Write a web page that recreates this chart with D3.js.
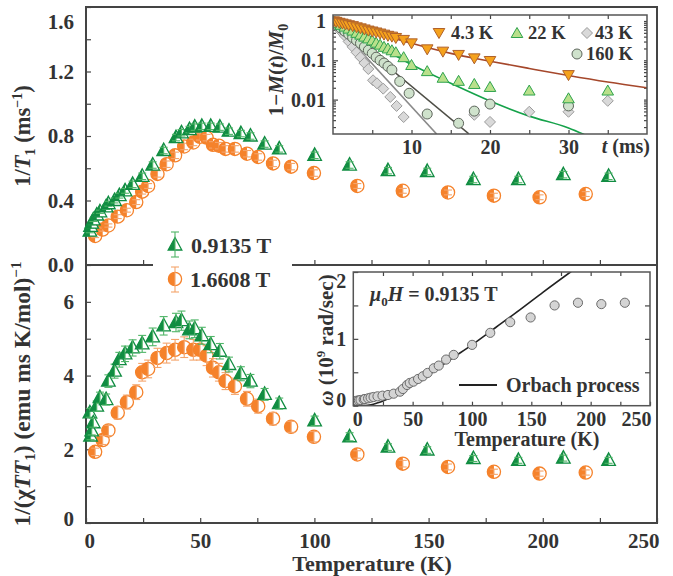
<!DOCTYPE html>
<html><head><meta charset="utf-8">
<script src="https://cdn.jsdelivr.net/npm/d3@7"></script>
<style>
body{margin:0;background:#fff}
text{font-family:"Liberation Serif",serif;font-weight:bold;fill:#333}
</style></head>
<body><svg id="chart" width="673" height="576"></svg>
<script>
// ---- 0.9135 T series (green triangles) ----
const greenT = [1.7,2.0,2.5,3.2,4.7,6.1,8.8,9.8,12.5,14.6,17.1,20.4,24.6,29.2,34.0,39.4,41.8,45.3,47.6,50.7,54.6,58.6,62.6,67.8,72.0,78.2,84.6,100.1,115.4,132.2,149.4,169.6,189.3,209.0,228.8];
const greenInvT1 = [0.21,0.24,0.26,0.28,0.31,0.33,0.36,0.38,0.40,0.43,0.46,0.50,0.55,0.62,0.71,0.79,0.82,0.84,0.855,0.86,0.86,0.855,0.83,0.815,0.80,0.75,0.72,0.68,0.62,0.585,0.58,0.53,0.53,0.56,0.55];
const greenInvT1Err = [0.01,0.01,0.01,0.01,0.01,0.01,0.015,0.015,0.015,0.015,0.015,0.02,0.02,0.02,0.02,0.02,0.02,0.02,0.02,0.02,0.02,0.02,0.02,0.02,0.02,0.02,0.02,0.02,0.02,0.02,0.02,0.02,0.02,0.02,0.02];
const greenInvChiTT1 = [2.99,2.36,2.50,2.72,3.17,3.40,3.35,3.85,4.12,4.43,4.59,4.75,4.86,5.05,5.35,5.44,5.49,5.24,5.27,5.08,4.84,4.66,4.30,4.05,3.85,3.49,3.24,2.77,2.34,2.06,1.98,1.75,1.70,1.76,1.70];
const greenInvChiTT1Err = [0.12,0.10,0.11,0.12,0.14,0.15,0.15,0.17,0.19,0.2,0.21,0.22,0.23,0.24,0.25,0.25,0.26,0.24,0.24,0.23,0.22,0.21,0.2,0.19,0.18,0.16,0.15,0.13,0.11,0.09,0.09,0.08,0.08,0.08,0.08];
const greenOmega = [0.06,0.065,0.07,0.075,0.08,0.085,0.095,0.10,0.11,0.12,0.13,0.14,0.15,0.16,0.18,0.21,0.25,0.31,0.34,0.36,0.40,0.44,0.49,0.56,0.60,0.69,0.76,0.91,1.09,1.25,1.32,1.50,1.54,1.52,1.54];

// ---- 1.6608 T series (orange circles) ----
const orangeT = [4.0,7.3,9.8,13.9,17.9,22.0,24.6,27.2,31.3,35.3,39.0,43.0,47.0,49.9,52.8,55.6,58.2,61.1,65.2,70.5,75.4,81.9,89.8,99.8,118.8,138.7,158.5,178.6,198.6,218.8];
const orangeInvT1 = [0.18,0.22,0.245,0.30,0.34,0.39,0.455,0.49,0.565,0.625,0.68,0.735,0.76,0.795,0.79,0.745,0.74,0.72,0.72,0.69,0.67,0.63,0.61,0.57,0.49,0.46,0.45,0.43,0.42,0.44];
const orangeInvT1Err = [0.01,0.01,0.01,0.012,0.012,0.015,0.015,0.015,0.02,0.02,0.02,0.02,0.02,0.02,0.02,0.02,0.02,0.02,0.02,0.02,0.02,0.02,0.02,0.02,0.015,0.015,0.015,0.015,0.015,0.015];
const orangeInvChiTT1 = [1.93,2.25,2.51,2.99,3.28,3.55,4.09,4.18,4.48,4.61,4.70,4.77,4.70,4.70,4.54,4.21,4.09,3.85,3.71,3.37,3.17,2.83,2.61,2.34,1.86,1.61,1.52,1.39,1.34,1.37];
const orangeInvChiTT1Err = [0.1,0.12,0.14,0.17,0.19,0.2,0.24,0.24,0.26,0.27,0.28,0.28,0.28,0.28,0.27,0.25,0.24,0.23,0.22,0.2,0.19,0.17,0.15,0.14,0.1,0.09,0.08,0.07,0.07,0.07];

// ---- Recovery curves 1-M(t)/M0 ----
const rec4T = [0.1,0.4,0.8,1.2,1.6,2.0,2.5,3.0,3.5,4.0,4.5,5.0,5.5,6.0,6.5,7.0,7.5,8.0,9.0,10,12,14,16,18,20,30];
const rec4V = [0.98,0.95,0.9,0.86,0.82,0.78,0.74,0.69,0.65,0.61,0.57,0.54,0.51,0.48,0.45,0.42,0.40,0.37,0.33,0.27,0.19,0.166,0.137,0.112,0.096,0.042];
const rec22T = [0.1,0.5,1.0,1.5,2.0,2.5,3.0,3.5,4.0,4.5,5.0,5.5,6.0,6.5,7.0,7.5,8.0,9.0,10,12,14,16,18,20,25,30,35];
const rec22V = [0.97,0.88,0.8,0.72,0.64,0.57,0.5,0.45,0.4,0.36,0.32,0.28,0.25,0.22,0.2,0.18,0.16,0.12,0.076,0.053,0.036,0.030,0.025,0.021,0.017,0.0108,0.017];
const rec43T = [0.1,0.5,1.0,1.5,2.0,2.5,3.0,3.5,4.0,4.5,5.1,5.6,6.4,7.3,8.1,9.0,18,20,25,30,35];
const rec43V = [0.95,0.75,0.55,0.42,0.3,0.22,0.16,0.12,0.085,0.06,0.031,0.026,0.019,0.0117,0.0069,0.0036,0.0041,0.0027,0.0049,0.0049,0.0093];
const rec160T = [0.1,0.5,1.0,1.5,2.0,2.5,3.0,3.5,4.0,4.5,5.0,5.5,6.0,6.5,7.0,7.5,8.5,9.7,12,16,18,20,30];
const rec160V = [0.96,0.8,0.66,0.55,0.46,0.38,0.32,0.27,0.22,0.18,0.15,0.12,0.1,0.085,0.07,0.057,0.029,0.0145,0.0043,0.0025,0.0051,0.0077,0.0069];
const fit4 = [[0,1],[2,0.78],[5,0.53],[10,0.27],[15,0.15],[20,0.095],[25,0.062],[30,0.041],[35,0.028],[40,0.02]];
const fit22 = [[0,1],[1,0.78],[2,0.6],[4,0.37],[6,0.22],[8,0.13],[10,0.078],[15,0.026],[20,0.0092],[25,0.0038],[30,0.0019],[32,0.0013]];
const fit43 = [[0,1],[13.2,0.00133]];
const fit160 = [[0,1],[17.3,0.00135]];

// ---- Orbach process curve for the rate inset ----
const orbachT = [0,10,15,20,25,30,40,50,60,70,80,100,120,140,160,183,190];
const orbachW = [0,0.002,0.015,0.04,0.07,0.11,0.19,0.30,0.42,0.54,0.67,0.91,1.17,1.43,1.70,2.0,2.09];

const cGreen = "#118d42", cGreenErr = "#4fb567";
const cOrange = "#f5822b", cOrangeErr = "#f4a46b";
const axisColor = "#444";

const svg = d3.select("#chart");

// ---------- main panels ----------
const L = 86, R = 657, T0 = 7, MID = 265, B = 523;
const x = d3.scaleLinear().domain([0, 250]).range([L, R]);
const yTop = d3.scaleLinear().domain([0, 1.6]).range([MID, T0]);
const yBot = d3.scaleLinear().domain([0, 7]).range([B, MID]);

function styleAxis(g) {
  g.select(".domain").remove();
  g.selectAll(".tick line").attr("stroke", axisColor).attr("stroke-width", 1.2);
  g.selectAll(".tick text").attr("fill", "#333").attr("font-family", "Liberation Serif").attr("font-weight", "bold");
}

// left axes (ticks inward)
const gTopY = svg.append("g").attr("transform", `translate(${L},0)`)
  .call(d3.axisLeft(yTop).tickValues(d3.range(0, 1.61, 0.2)).tickSizeInner(-5).tickSizeOuter(0).tickPadding(12)
    .tickFormat(d => (Math.round(d * 10) % 4 === 0) ? d3.format(".1f")(d) : ""));
styleAxis(gTopY);
gTopY.selectAll(".tick text").attr("font-size", 21);
gTopY.selectAll(".tick").filter(d => Math.abs(d - 1.6) < 1e-6).select("text").attr("dy", "1.0em");

const gBotY = svg.append("g").attr("transform", `translate(${L},0)`)
  .call(d3.axisLeft(yBot).tickValues(d3.range(0, 7, 1)).tickSizeInner(-5).tickSizeOuter(0).tickPadding(12)
    .tickFormat(d => d % 2 === 0 ? d : ""));
styleAxis(gBotY);
gBotY.selectAll(".tick text").attr("font-size", 21);
gBotY.selectAll(".tick").filter(d => d === 0).select("text").attr("dy", "0.1em");

// bottom axis
const gX = svg.append("g").attr("transform", `translate(0,${B})`)
  .call(d3.axisBottom(x).tickValues(d3.range(0, 251, 25)).tickSizeInner(-5).tickSizeOuter(0).tickPadding(10)
    .tickFormat(d => d % 50 === 0 ? d : ""));
styleAxis(gX);
gX.selectAll(".tick text").attr("font-size", 21);
gX.selectAll(".tick").filter(d => d === 0).select("text").attr("text-anchor", "start").attr("dx", -2);
gX.selectAll(".tick").filter(d => d === 250).select("text").attr("text-anchor", "end").attr("dx", 2);

// ticks on the panel divider
const gMid = svg.append("g").attr("transform", `translate(0,${MID})`)
  .call(d3.axisBottom(x).tickValues(d3.range(25, 250, 25)).tickSizeInner(-5).tickSizeOuter(0).tickFormat(""));
styleAxis(gMid);

// frame and divider
svg.append("rect").attr("x", L).attr("y", T0).attr("width", R - L).attr("height", B - T0)
  .attr("fill", "none").attr("stroke", axisColor).attr("stroke-width", 2);
svg.append("line").attr("x1", L).attr("x2", R).attr("y1", MID).attr("y2", MID)
  .attr("stroke", axisColor).attr("stroke-width", 2);

// ---------- markers ----------
function halfTriangle(g, cx, cy, color) {
  const p = `M${cx},${cy - 7.5} L${cx + 6.8},${cy + 5} L${cx - 6.8},${cy + 5} Z`;
  g.append("path").attr("d", p).attr("fill", "#fff").attr("stroke", color).attr("stroke-width", 1.3);
  g.append("path").attr("d", `M${cx},${cy - 7.5} L${cx},${cy + 5} L${cx - 6.8},${cy + 5} Z`).attr("fill", color);
}
function halfCircle(g, cx, cy, color) {
  const r = 6.6;
  g.append("circle").attr("cx", cx).attr("cy", cy).attr("r", r).attr("fill", "#fff").attr("stroke", color).attr("stroke-width", 1.3);
  g.append("path").attr("d", `M${cx},${cy - r} A${r},${r} 0 0 0 ${cx},${cy + r} Z`).attr("fill", color);
}
function errBar(g, cx, y1, y2, color) {
  g.append("line").attr("x1", cx).attr("x2", cx).attr("y1", y1).attr("y2", y2).attr("stroke", color).attr("stroke-width", 1.1);
  [y1, y2].forEach(yy => g.append("line").attr("x1", cx - 4).attr("x2", cx + 4).attr("y1", yy).attr("y2", yy)
    .attr("stroke", color).attr("stroke-width", 1.1));
}
function series(g, ts, vs, es, ys, kind) {
  const col = kind === "tri" ? cGreen : cOrange;
  const ecol = kind === "tri" ? cGreenErr : cOrangeErr;
  ts.forEach((t, i) => {
    const cx = x(t), cy = ys(vs[i]);
    if (kind === "tri") halfTriangle(g, cx, cy, col); else halfCircle(g, cx, cy, col);
    errBar(g, cx, ys(vs[i] + es[i]), ys(vs[i] - es[i]), ecol);
  });
}
const gData = svg.append("g");
series(gData, orangeT, orangeInvT1, orangeInvT1Err, yTop, "circ");
series(gData, greenT, greenInvT1, greenInvT1Err, yTop, "tri");
series(gData, orangeT, orangeInvChiTT1, orangeInvChiTT1Err, yBot, "circ");
series(gData, greenT, greenInvChiTT1, greenInvChiTT1Err, yBot, "tri");

// ---------- legend of the main panels ----------
svg.append("rect").attr("x", 153).attr("y", 232).attr("width", 139).attr("height", 62).attr("fill", "#fff");
const lg = svg.append("g");
halfTriangle(lg, 175, 245, cGreen); errBar(lg, 175, 232, 257, cGreenErr);
halfCircle(lg, 175, 279, cOrange); errBar(lg, 175, 267, 292, cOrangeErr);
lg.append("text").attr("x", 191).attr("y", 245).attr("dy", "0.35em").attr("font-size", 22).text("0.9135 T");
lg.append("text").attr("x", 190).attr("y", 279).attr("dy", "0.35em").attr("font-size", 22).text("1.6608 T");

// ---------- axis titles ----------
svg.append("text").attr("x", 372).attr("y", 563).attr("dy", "0.35em").attr("text-anchor", "middle").attr("font-size", 22).text("Temperature (K)");
const tTop = svg.append("text").attr("transform", "translate(22,136) rotate(-90)").attr("text-anchor", "middle").attr("dy", "0.35em").attr("font-size", 22.5);
tTop.append("tspan").text("1/");
tTop.append("tspan").attr("font-style", "italic").text("T");
tTop.append("tspan").attr("font-size", 14).attr("dy", 5).text("1");
tTop.append("tspan").attr("dy", -5).text(" (ms");
tTop.append("tspan").attr("font-size", 14).attr("dy", -8).text("−1");
tTop.append("tspan").attr("dy", 8).text(")");
const tBot = svg.append("text").attr("transform", "translate(22,394) rotate(-90)").attr("text-anchor", "middle").attr("dy", "0.35em").attr("font-size", 23.5);
tBot.append("tspan").text("1/(χ");
tBot.append("tspan").attr("font-style", "italic").text("TT");
tBot.append("tspan").attr("font-size", 15).attr("dy", 5).text("1");
tBot.append("tspan").attr("dy", -5).text(") (emu ms K/mol)");
tBot.append("tspan").attr("font-size", 15).attr("dy", -9).text("−1");

// ---------- inset: magnetization recovery ----------
const i1 = {l: 333, r: 647, t: 15, b: 134};
const xr = d3.scaleLinear().domain([0, 40]).range([i1.l, i1.r]);
const yr = d3.scaleLog().domain([0.001333, 1.421]).range([i1.b, i1.t]);
svg.append("rect").attr("x", i1.l).attr("y", i1.t).attr("width", i1.r - i1.l).attr("height", i1.b - i1.t).attr("fill", "#fff");
svg.append("clipPath").attr("id", "clip1").append("rect").attr("x", i1.l).attr("y", i1.t).attr("width", i1.r - i1.l).attr("height", i1.b - i1.t);

const minorLog = [];
[0.001, 0.01, 0.1, 1].forEach(dec => { for (let k = 2; k <= 9; k++) { const v = dec * k; if (v > 0.001333 && v < 1.421) minorLog.push(v); } });
const g1 = svg.append("g");
const ax1L = g1.append("g").attr("transform", `translate(${i1.l},0)`)
  .call(d3.axisLeft(yr).tickValues([1, 0.1, 0.01]).tickSizeInner(-5).tickSizeOuter(0).tickPadding(7).tickFormat(d => d === 1 ? "1" : String(d)));
styleAxis(ax1L); ax1L.selectAll(".tick text").attr("font-size", 20);
const ax1Lm = g1.append("g").attr("transform", `translate(${i1.l},0)`)
  .call(d3.axisLeft(yr).tickValues(minorLog).tickSizeInner(-3).tickSizeOuter(0).tickFormat(""));
styleAxis(ax1Lm);
const ax1R = g1.append("g").attr("transform", `translate(${i1.r},0)`)
  .call(d3.axisRight(yr).tickValues(minorLog.concat([1, 0.1, 0.01])).tickSizeInner(-3).tickSizeOuter(0).tickFormat(""));
styleAxis(ax1R);
const ax1B = g1.append("g").attr("transform", `translate(0,${i1.b})`)
  .call(d3.axisBottom(xr).tickValues([5, 10, 15, 20, 25, 30, 35]).tickSizeInner(-4).tickSizeOuter(0).tickPadding(6)
    .tickFormat(d => d % 10 === 0 ? d : ""));
styleAxis(ax1B); ax1B.selectAll(".tick text").attr("font-size", 20);
const ax1T = g1.append("g").attr("transform", `translate(0,${i1.t})`)
  .call(d3.axisTop(xr).tickValues([5, 10, 15, 20, 25, 30, 35]).tickSizeInner(-4).tickSizeOuter(0).tickFormat(""));
styleAxis(ax1T);

const lineR = d3.line().x(d => xr(d[0])).y(d => yr(d[1])).curve(d3.curveMonotoneX);
const fits = g1.append("g").attr("clip-path", "url(#clip1)");
fits.append("path").attr("d", lineR(fit43)).attr("fill", "none").attr("stroke", "#8a8a8a").attr("stroke-width", 1.6);
fits.append("path").attr("d", lineR(fit160)).attr("fill", "none").attr("stroke", "#4e4e46").attr("stroke-width", 1.6);
fits.append("path").attr("d", lineR(fit22)).attr("fill", "none").attr("stroke", "#15a24a").attr("stroke-width", 1.6);
fits.append("path").attr("d", lineR(fit4)).attr("fill", "none").attr("stroke", "#a5472b").attr("stroke-width", 1.6);

function diamond(g, cx, cy) {
  g.append("path").attr("d", `M${cx},${cy - 5.5} L${cx + 5.5},${cy} L${cx},${cy + 5.5} L${cx - 5.5},${cy} Z`)
    .attr("fill", "#d9d9d9").attr("stroke", "#9b9b9b").attr("stroke-width", 1);
}
function circ160(g, cx, cy) {
  g.append("circle").attr("cx", cx).attr("cy", cy).attr("r", 5).attr("fill", "#cfe2cc").attr("stroke", "#5d655b").attr("stroke-width", 1);
}
function tri22(g, cx, cy) {
  g.append("path").attr("d", `M${cx},${cy - 5.5} L${cx + 5.8},${cy + 4.5} L${cx - 5.8},${cy + 4.5} Z`)
    .attr("fill", "#b9e08b").attr("stroke", "#2ea34d").attr("stroke-width", 1);
}
function tri4(g, cx, cy) {
  g.append("path").attr("d", `M${cx},${cy + 5.5} L${cx + 5.8},${cy - 4.5} L${cx - 5.8},${cy - 4.5} Z`)
    .attr("fill", "#f5a21c").attr("stroke", "#b0612a").attr("stroke-width", 1);
}
const pts = g1.append("g").attr("clip-path", "url(#clip1)");
rec43T.forEach((t, i) => diamond(pts, xr(t), yr(rec43V[i])));
rec160T.forEach((t, i) => circ160(pts, xr(t), yr(rec160V[i])));
rec22T.forEach((t, i) => tri22(pts, xr(t), yr(rec22V[i])));
rec4T.forEach((t, i) => tri4(pts, xr(t), yr(rec4V[i])));

svg.append("rect").attr("x", i1.l).attr("y", i1.t).attr("width", i1.r - i1.l).attr("height", i1.b - i1.t)
  .attr("fill", "none").attr("stroke", "#555").attr("stroke-width", 1.5);

// inset legend
const lg1 = svg.append("g");
tri4(lg1, 439, 33); lg1.append("text").attr("x", 451).attr("y", 33).attr("dy", "0.35em").attr("font-size", 18.5).text("4.3 K");
tri22(lg1, 517, 33); lg1.append("text").attr("x", 528).attr("y", 33).attr("dy", "0.35em").attr("font-size", 18.5).text("22 K");
diamond(lg1, 587, 33); lg1.append("text").attr("x", 595).attr("y", 33).attr("dy", "0.35em").attr("font-size", 18.5).text("43 K");
circ160(lg1, 577, 54); lg1.append("text").attr("x", 586).attr("y", 54).attr("dy", "0.35em").attr("font-size", 18.5).text("160 K");

// inset axis titles
const t1y = svg.append("text").attr("transform", "translate(276,70) rotate(-90)").attr("text-anchor", "middle").attr("dy", "0.35em").attr("font-size", 21);
t1y.append("tspan").text("1−");
t1y.append("tspan").attr("font-style", "italic").text("M");
t1y.append("tspan").text("(");
t1y.append("tspan").attr("font-style", "italic").text("t");
t1y.append("tspan").text(")/");
t1y.append("tspan").attr("font-style", "italic").text("M");
t1y.append("tspan").attr("font-size", 14).attr("dy", 5).text("0");
const t1x = svg.append("text").attr("x", 650).attr("y", 146).attr("dy", "0.35em").attr("text-anchor", "end").attr("font-size", 20);
t1x.append("tspan").attr("font-style", "italic").text("t");
t1x.append("tspan").text(" (ms)");

// ---------- inset: relaxation rate ----------
const i2 = {l: 353.3, r: 650, t: 272, b: 405.7};
const xw = d3.scaleLinear().domain([0, 250]).range([i2.l, i2.r]);
const yw = d3.scaleLinear().domain([0, 2]).range([i2.b, i2.t]);
svg.append("rect").attr("x", i2.l).attr("y", i2.t).attr("width", i2.r - i2.l).attr("height", i2.b - i2.t).attr("fill", "#fff");
svg.append("clipPath").attr("id", "clip2").append("rect").attr("x", i2.l).attr("y", i2.t).attr("width", i2.r - i2.l).attr("height", i2.b - i2.t);
const g2 = svg.append("g");
const ax2L = g2.append("g").attr("transform", `translate(${i2.l},0)`)
  .call(d3.axisLeft(yw).tickValues([0, 0.5, 1, 1.5, 2]).tickSizeInner(-5).tickSizeOuter(0).tickPadding(7)
    .tickFormat(d => Number.isInteger(d) ? d : ""));
styleAxis(ax2L); ax2L.selectAll(".tick text").attr("font-size", 20);
ax2L.selectAll(".tick").filter(d => d === 0).select("text").attr("dy", "0.05em");
ax2L.selectAll(".tick").filter(d => d === 2).select("text").attr("dy", "0.75em");
const ax2R = g2.append("g").attr("transform", `translate(${i2.r},0)`)
  .call(d3.axisRight(yw).tickValues([0.5, 1, 1.5]).tickSizeInner(-5).tickSizeOuter(0).tickFormat(""));
styleAxis(ax2R);
const ax2B = g2.append("g").attr("transform", `translate(0,${i2.b})`)
  .call(d3.axisBottom(xw).tickValues(d3.range(0, 251, 25)).tickSizeInner(-4).tickSizeOuter(0).tickPadding(6)
    .tickFormat(d => d % 50 === 0 ? d : ""));
styleAxis(ax2B); ax2B.selectAll(".tick text").attr("font-size", 20);
ax2B.selectAll(".tick").filter(d => d === 0).select("text").attr("text-anchor", "start").attr("dx", -1);
ax2B.selectAll(".tick").filter(d => d === 250).select("text").attr("text-anchor", "end").attr("dx", 1);
const ax2T = g2.append("g").attr("transform", `translate(0,${i2.t})`)
  .call(d3.axisTop(xw).tickValues(d3.range(25, 250, 25)).tickSizeInner(-4).tickSizeOuter(0).tickFormat(""));
styleAxis(ax2T);

const lineW = d3.line().x((d, i) => xw(orbachT[i])).y(d => yw(d)).curve(d3.curveMonotoneX);
g2.append("path").attr("clip-path", "url(#clip2)").attr("d", lineW(orbachW)).attr("fill", "none").attr("stroke", "#222").attr("stroke-width", 1.6);
const ptsW = g2.append("g").attr("clip-path", "url(#clip2)");
greenT.forEach((t, i) => ptsW.append("circle").attr("cx", xw(t)).attr("cy", yw(greenOmega[i])).attr("r", 4.6)
  .attr("fill", "#d4d4d4").attr("stroke", "#6b6b6b").attr("stroke-width", 1));
svg.append("rect").attr("x", i2.l).attr("y", i2.t).attr("width", i2.r - i2.l).attr("height", i2.b - i2.t)
  .attr("fill", "none").attr("stroke", "#555").attr("stroke-width", 1.5);

const ann = svg.append("text").attr("x", 370).attr("y", 294).attr("dy", "0.35em").attr("font-size", 20);
ann.append("tspan").attr("font-style", "italic").text("μ");
ann.append("tspan").attr("font-size", 13).attr("dy", 5).text("0");
ann.append("tspan").attr("font-style", "italic").attr("dy", -5).text("H");
ann.append("tspan").text(" = 0.9135 T");
svg.append("line").attr("x1", 459).attr("x2", 497).attr("y1", 385).attr("y2", 385).attr("stroke", "#222").attr("stroke-width", 1.8);
svg.append("text").attr("x", 506).attr("y", 385).attr("dy", "0.35em").attr("font-size", 20).text("Orbach process");
svg.append("text").attr("x", 527).attr("y", 439).attr("dy", "0.35em").attr("text-anchor", "middle").attr("font-size", 20).text("Temperature (K)");
const t2y = svg.append("text").attr("transform", "translate(326,340) rotate(-90)").attr("text-anchor", "middle").attr("dy", "0.35em").attr("font-size", 21);
t2y.append("tspan").attr("font-style", "italic").text("ω");
t2y.append("tspan").text(" (10");
t2y.append("tspan").attr("font-size", 13).attr("dy", -8).text("9");
t2y.append("tspan").attr("dy", 8).text(" rad/sec)");
</script></body></html>
